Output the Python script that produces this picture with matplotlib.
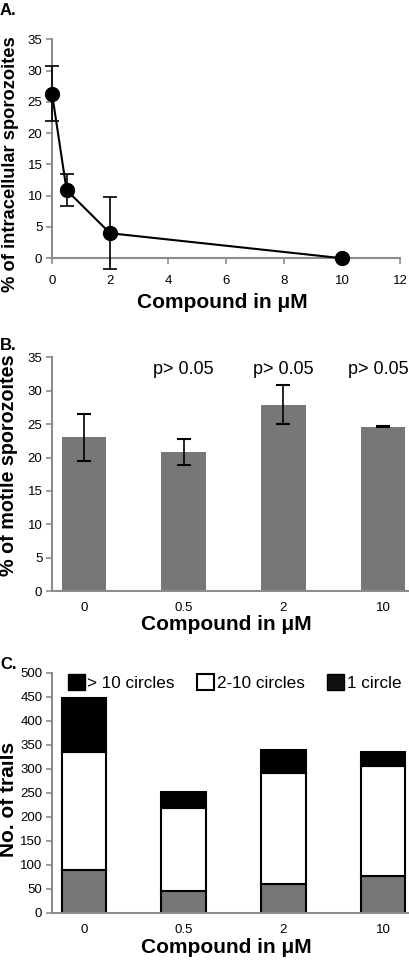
from matplotlib import pyplot as plt
from matplotlib.patches import Patch
from matplotlib import font_manager
import numpy as np

# Panel A: invasion vs compound concentration
conc_a = [0, 0.5, 2, 10]
intracellular = [26.3, 10.9, 4.0, 0.0]
intracellular_err = [4.4, 2.6, 5.8, 0.0]

# Panel B: motility
doses = ["0", "0.5", "2", "10"]
motile = [23.0, 20.8, 27.9, 24.6]
motile_err = [3.55, 1.9, 2.95, 0.1]
p_labels = ["", "p> 0.05", "p> 0.05", "p> 0.05"]

# Panel C: trail counts (stacked)
one_circle = [89, 46, 61, 77]
two_ten = [247, 172, 230, 230]
over_ten = [111, 34, 48, 28]

AX_COL = "#8c8c8c"
BAR_GREY = "#777777"
LAB_FONT = ["Liberation Sans", "DejaVu Sans"]

# narrow font for tick labels if one is around
names = {f.name for f in font_manager.fontManager.ttflist}
narrow = [n for n in ("Liberation Sans Narrow", "DejaVu Sans Condensed")
          if n in names]
TICK_FONT = narrow + ["Liberation Sans"]


def style_axes(ax):
    for s in ("top", "right"):
        ax.spines[s].set_visible(False)
    for s in ("left", "bottom"):
        ax.spines[s].set_color(AX_COL)
        ax.spines[s].set_linewidth(1.5)
    ax.tick_params(direction="out", color=AX_COL, width=1.2, length=4,
                   labelsize=9.5, pad=3)
    for lab in ax.get_xticklabels() + ax.get_yticklabels():
        lab.set_family(TICK_FONT)
        lab.set_stretch("condensed")


def labels(ax, ylab, ysize, yfrac, xtop):
    ax.set_xlabel("Compound in \u03bcM", fontsize=15, fontweight="bold",
                  family=LAB_FONT)
    ax.xaxis.set_label_coords(0.49, xtop)
    ax.set_ylabel(ylab, fontsize=ysize, fontweight="bold", family=LAB_FONT)
    ax.yaxis.set_label_coords(-0.095, yfrac)


fig = plt.figure(figsize=(4.1, 9.6), dpi=100)

# ---- A ----
ax1 = fig.add_axes([0.127, 0.731, 0.849, 0.228])
ax1.errorbar(conc_a, intracellular, yerr=intracellular_err, color="black",
             lw=1.5, marker="o", ms=10, capsize=5, elinewidth=1.2,
             capthick=1.2, clip_on=False, zorder=3)
ax1.set_xlim(0, 12)
ax1.set_ylim(0, 35)
ax1.set_xticks(np.arange(0, 13, 2))
ax1.set_yticks(np.arange(0, 36, 5))
style_axes(ax1)
ax1.tick_params(axis="x", pad=8)
labels(ax1, "% of intracellular sporozoites", 13.2, 0.43, -0.16)
fig.text(0.0, 0.997, "A.", fontsize=12, fontweight="bold", family=LAB_FONT,
         va="top")

# ---- B ----
ax2 = fig.add_axes([0.127, 0.384, 0.868, 0.244])
xb = np.arange(len(doses))
ax2.bar(xb, motile, width=0.45, color=BAR_GREY)
ax2.errorbar(xb, motile, yerr=motile_err, fmt="none", ecolor="black",
             elinewidth=1.2, capsize=5, capthick=1.5)
for x, lab in zip(xb, p_labels):
    ax2.text(x - 0.05 * (x == 3), 33.2, lab, ha="center", va="center",
             fontsize=13, family=LAB_FONT)
ax2.set_xlim(-0.32, 3.25)
ax2.set_ylim(0, 35)
ax2.set_xticks(xb)
ax2.set_xticklabels(doses)
ax2.set_yticks(np.arange(0, 36, 5))
style_axes(ax2)
ax2.tick_params(axis="x", length=0, pad=8)
labels(ax2, "% of motile sporozoites", 14.2, 0.54, -0.103)
fig.text(0.0, 0.648, "B.", fontsize=12, fontweight="bold", family=LAB_FONT,
         va="top")

# ---- C ----
ax3 = fig.add_axes([0.127, 0.049, 0.868, 0.25])
b1 = np.array(one_circle)
b2 = b1 + np.array(two_ten)
ax3.bar(xb, one_circle, width=0.45, color=BAR_GREY, edgecolor="black", lw=1.5)
ax3.bar(xb, two_ten, bottom=b1, width=0.45, color="white", edgecolor="black",
        lw=1.5)
ax3.bar(xb, over_ten, bottom=b2, width=0.45, color="black", edgecolor="black",
        lw=1.5)
ax3.set_xlim(-0.32, 3.25)
ax3.set_ylim(0, 500)
ax3.set_xticks(xb)
ax3.set_xticklabels(doses)
ax3.set_yticks(np.arange(0, 501, 50))
style_axes(ax3)
ax3.tick_params(axis="x", length=0, pad=8)
labels(ax3, "No. of trails", 15, 0.475, -0.104)
handles = [Patch(facecolor="black", edgecolor="black", label="> 10 circles"),
           Patch(facecolor="white", edgecolor="black", lw=1.5,
                 label="2-10 circles"),
           Patch(facecolor="#111111", edgecolor="black", label="1 circle")]
leg = ax3.legend(handles=handles, loc="upper left", ncol=3, frameon=False,
                 bbox_to_anchor=(0.025, 1.025), fontsize=12.3,
                 handlelength=1.0, handleheight=1.1, handletextpad=0.15,
                 columnspacing=1.3, borderaxespad=0)
for t in leg.get_texts():
    t.set_family(LAB_FONT)
fig.text(0.0, 0.316, "C.", fontsize=12, fontweight="bold", family=LAB_FONT,
         va="top")

fig.savefig("out.png", dpi=100)
